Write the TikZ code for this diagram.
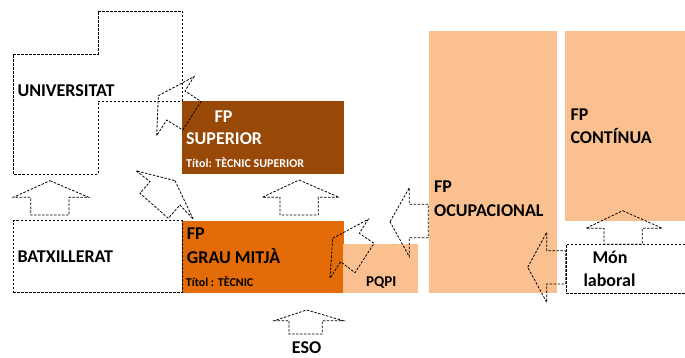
\documentclass[tikz,border=0pt]{standalone}
\usepackage{fontspec}
\setmainfont{Carlito}
\definecolor{fpbrown}{HTML}{984807}
\definecolor{fporange}{HTML}{E36C09}
\definecolor{fppeach}{HTML}{FAC090}
\tikzset{
  dashline/.style={draw=black, line width=0.8pt, dash pattern=on 2.5pt off 1.5pt},
  blockarrow/.style={dashline, line join=miter},
  fpbox/.style={anchor=north west, inner sep=0pt, outer sep=0pt},
  lbl/.style={anchor=base west, inner sep=0pt, font=\fontsize{18}{20}\selectfont\bfseries},
  small/.style={anchor=base west, inner sep=0pt, font=\fontsize{12}{14}\selectfont\bfseries},
}
\begin{document}
\begin{tikzpicture}[x=1pt,y=-1pt]
\useasboundingbox (0,0) rectangle (685,358);

% coloured boxes
\node[fpbox, fill=fpbrown, minimum width=162pt, minimum height=73pt] (sup) at (182,101) {};
\node[fpbox, fill=fporange, minimum width=162pt, minimum height=72pt] (gm) at (182,220.5) {};
\node[fpbox, fill=fppeach, minimum width=75pt, minimum height=48.5pt] (pqpi) at (342.5,244) {};
\node[fpbox, fill=fppeach, minimum width=128pt, minimum height=262pt] (ocup) at (429,31) {};
\node[fpbox, fill=fppeach, minimum width=121pt, minimum height=190pt] (cont) at (565,31) {};

% dashed boxes
\draw[dashline] (13,54) -- (98,54) -- (98,11) -- (182,11) -- (182,101)
  -- (98,101) -- (98,174) -- (13,174) -- cycle;
\node[fpbox, dashline, minimum width=169pt, minimum height=72pt] (batx) at (13,220.5) {};
\node[fpbox, dashline, minimum width=121pt, minimum height=49pt] (mon) at (566,244) {};

% labels
\node[lbl] (univ) at (17.3,96.5) {UNIVERSITAT};
\node[lbl, white] (supfp) at (214.3,122.3) {FP};
\node[lbl, white] (suptxt) at (186,145) {SUPERIOR};
\node[small, white] (suptitol) at (186,167.3) {Títol: TÈCNIC SUPERIOR};
\node[lbl] (batxtxt) at (17.3,262.7) {BATXILLERAT};
\node[lbl] (gmfp) at (186.7,240) {FP};
\node[lbl] (gmtxt) at (186.7,263.3) {GRAU MITJÀ};
\node[small] (gmtitol) at (185.7,286) {Títol : TÈCNIC};
\node[lbl, font=\fontsize{15}{17}\selectfont\bfseries] (pqpitxt) at (366,286) {PQPI};
\node[lbl] (eso) at (291.7,353) {ESO};
\node[lbl] (ocupfp) at (434,192.7) {FP};
\node[lbl] (ocuptxt) at (434,216) {OCUPACIONAL};
\node[lbl] (contfp) at (570.3,120.7) {FP};
\node[lbl] (conttxt) at (570.3,144) {CONTÍNUA};
\node[lbl] (montxt) at (592.3,263.3) {Món};
\node[lbl] (monlab) at (583.3,286) {laboral};

% block arrows
\draw[blockarrow] (50,180.7) -- (88.7,197.3) -- (69,197.3) -- (69,215)
  -- (30.7,215) -- (30.7,197.3) -- (13.3,197.3) -- cycle;
\draw[blockarrow] (299,180) -- (339,197.3) -- (318.3,197.3) -- (318.3,215)
  -- (280,215) -- (280,197.3) -- (262.3,197.3) -- cycle;
\draw[blockarrow] (306.7,310) -- (343.3,320.7) -- (322.3,320.7) -- (322.3,334)
  -- (289,334) -- (289,320.7) -- (274.3,320.7) -- cycle;
\draw[blockarrow] (622.7,210.7) -- (662.3,228.3) -- (642.3,228.3) -- (642.3,244.3)
  -- (604,244.3) -- (604,228.3) -- (586,228.3) -- cycle;
\draw[blockarrow] (158.3,95.7) -- (194,76.7) -- (185,91) -- (201,101.5)
  -- (182.7,130) -- (166.7,120) -- (156.7,135.7) -- cycle;
\draw[blockarrow] (175,180.7) -- (193.3,219.3) -- (180,205) -- (168.3,218.3)
  -- (140,193.3) -- (150,181.7) -- (136,170.7) -- cycle;
\draw[blockarrow] (332.7,238.3) -- (368.3,219.3) -- (359.3,233.3) -- (374,243.3)
  -- (355,272.7) -- (340.7,261.7) -- (330,278.3) -- cycle;
\draw[blockarrow] (390,221.7) -- (409.3,187.7) -- (409.3,204.3) -- (428.3,204.3)
  -- (428.3,237.7) -- (409.3,237.7) -- (409.3,256.7) -- cycle;
\draw[blockarrow] (527.7,267.3) -- (546.7,232.3) -- (546.7,250.7) -- (565.7,250.7)
  -- (565.7,284) -- (546.7,284) -- (546.7,302.3) -- cycle;
\end{tikzpicture}
\end{document}
